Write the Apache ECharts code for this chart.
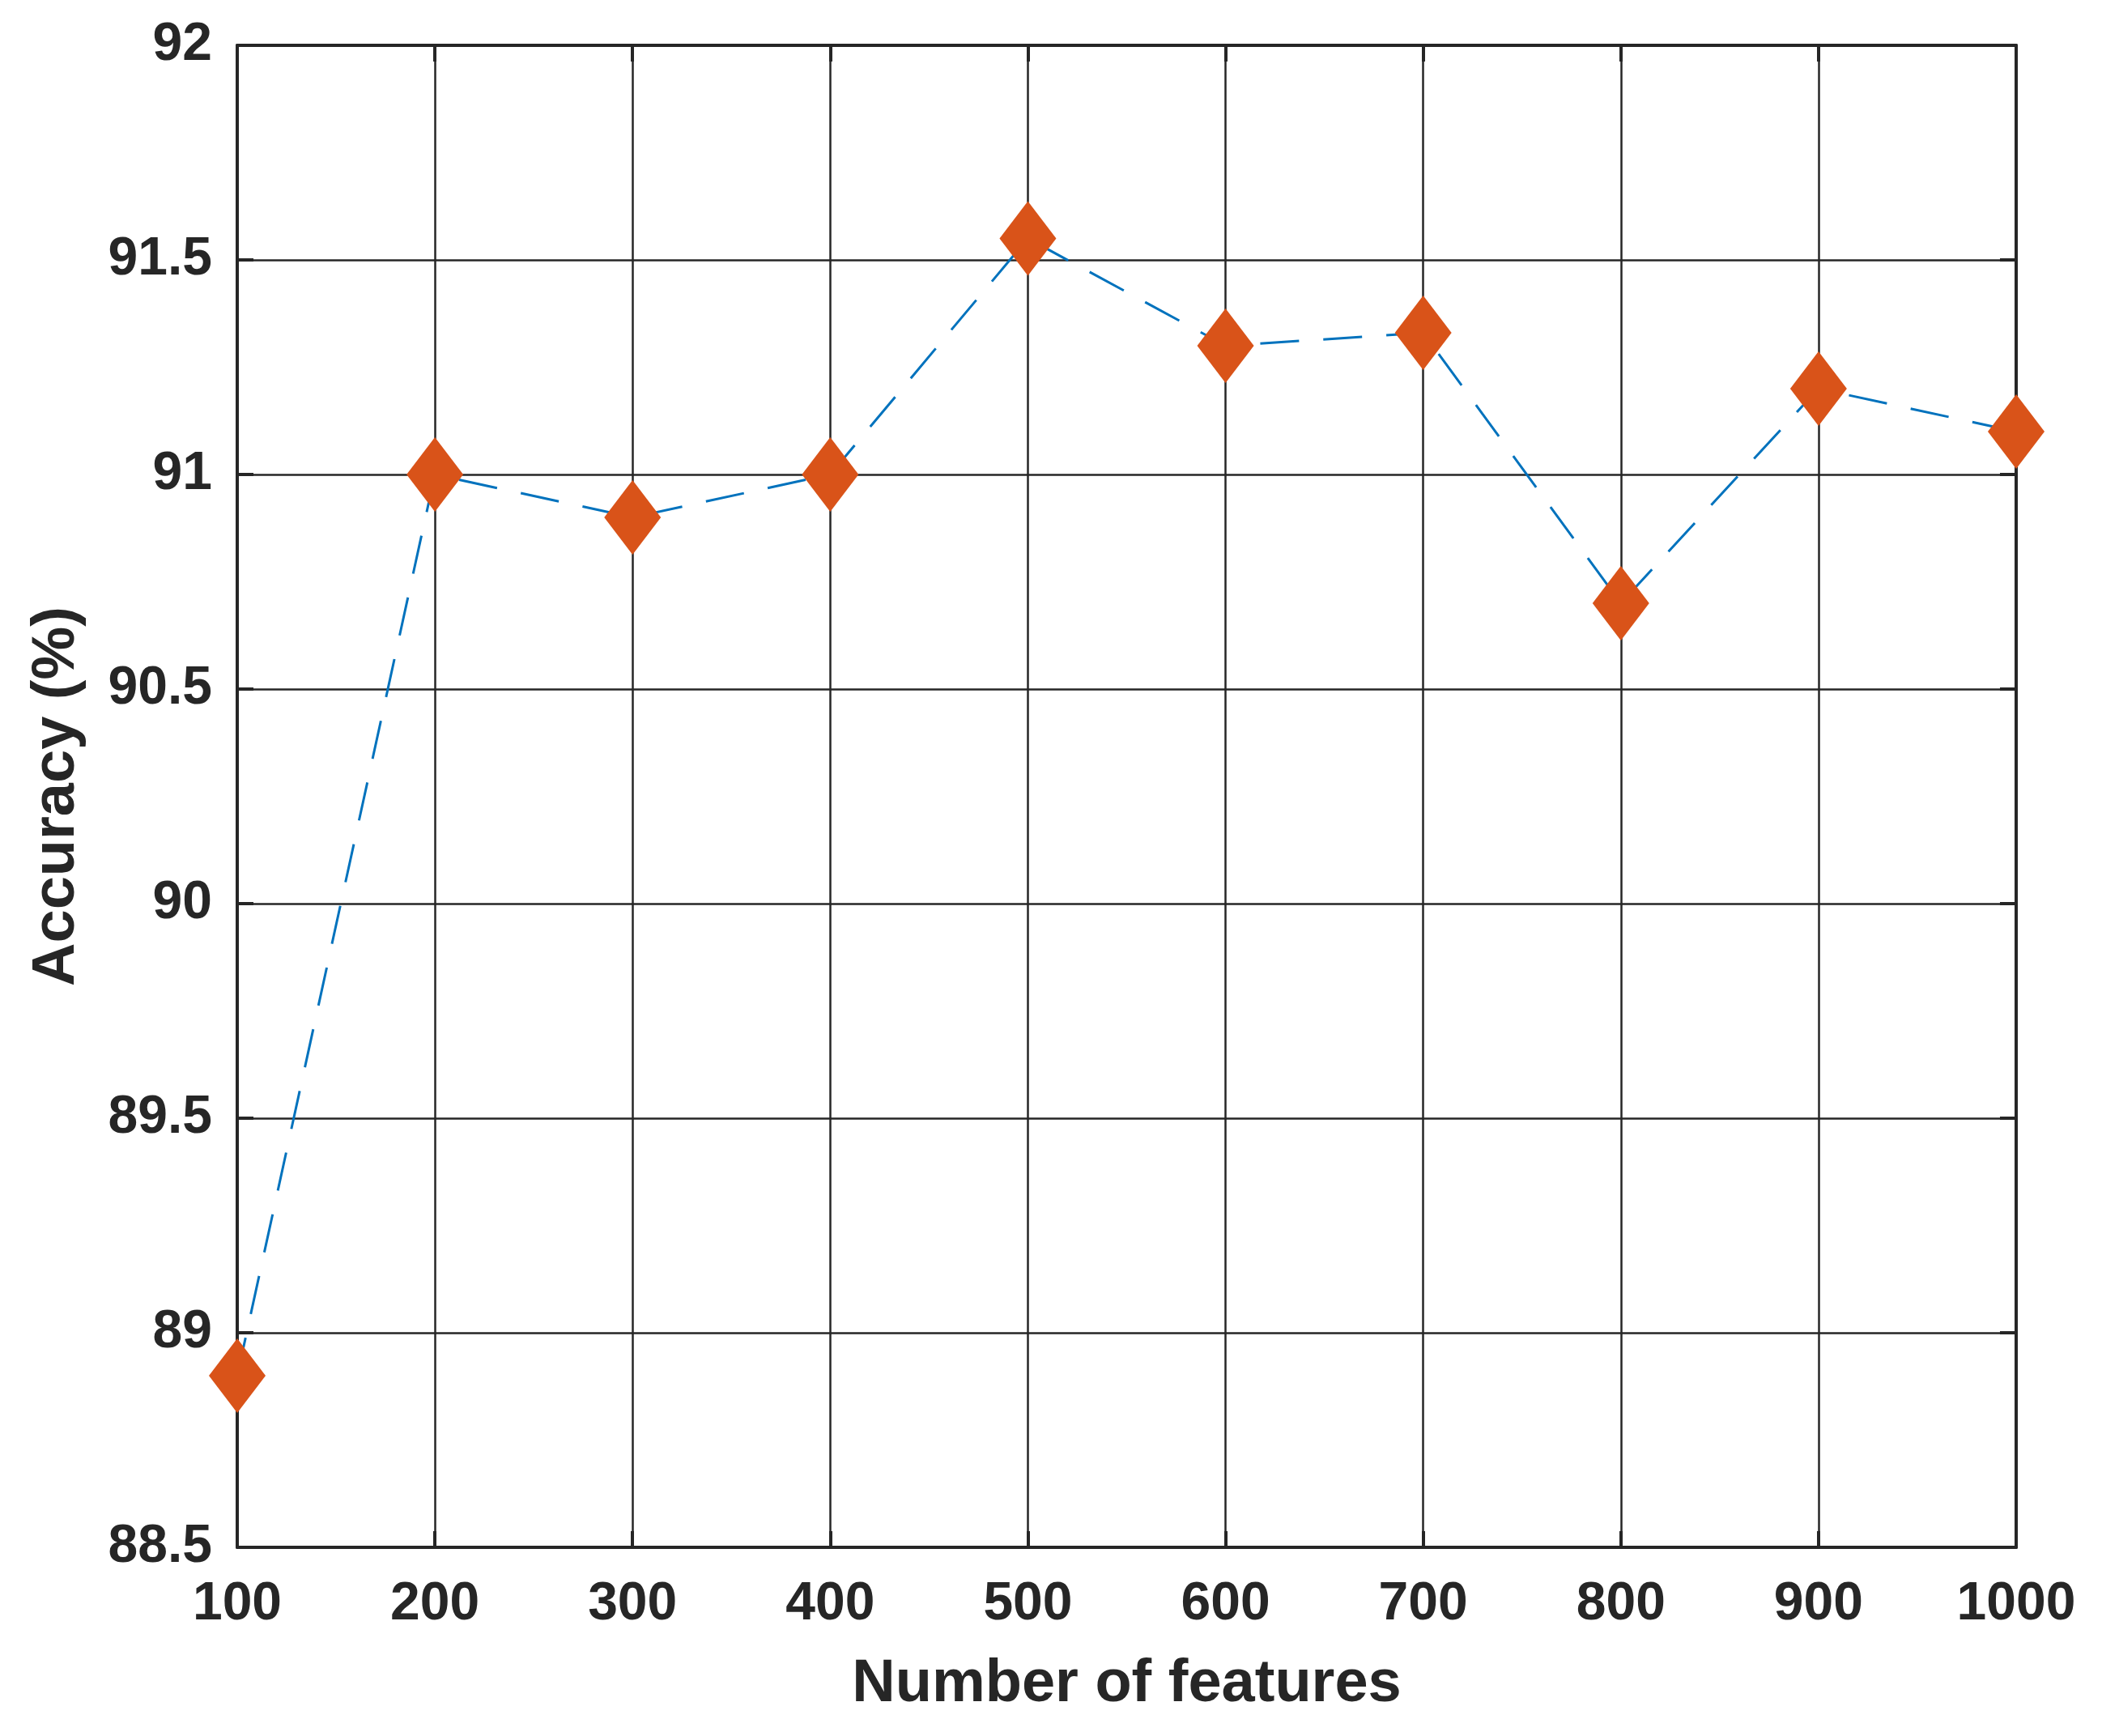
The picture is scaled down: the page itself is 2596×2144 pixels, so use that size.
<!DOCTYPE html>
<html>
<head>
<meta charset="utf-8">
<script src="https://cdn.jsdelivr.net/npm/echarts@6/dist/echarts.min.js"></script>
<style>
html,body{margin:0;padding:0;background:#fff;}
#chart{width:2596px;height:2144px;}
</style>
</head>
<body>
<div id="chart"></div>
<script>
const features = [100, 200, 300, 400, 500, 600, 700, 800, 900, 1000];
const accuracy = [88.9, 91.0, 90.9, 91.0, 91.55, 91.3, 91.33, 90.7, 91.2, 91.1];
const xTitle = 'Number of features';
const yTitle = 'Accuracy (%)';

const ink = '#262626';
const font = '"Liberation Sans", Arial, sans-serif';
const chart = echarts.init(document.getElementById('chart'), null, {renderer: 'canvas'});

const tickLabel = {color: ink, fontFamily: font, fontWeight: 'bold', fontSize: 66};
const axisCommon = {
  axisLine: {show: true, lineStyle: {color: ink, width: 4}},
  axisTick: {show: true, inside: true, length: 20, lineStyle: {color: ink, width: 4}}
};

chart.setOption({
  animation: false,
  backgroundColor: '#fff',
  grid: {left: 293, right: 2596 - 2490, top: 56, bottom: 2144 - 1911, show: false},
  xAxis: [
    Object.assign({
      type: 'value', min: 100, max: 1000, interval: 100, position: 'bottom',
      name: xTitle, nameLocation: 'middle', nameGap: 133,
      nameTextStyle: {color: ink, fontFamily: font, fontWeight: 'bold', fontSize: 74},
      axisLabel: Object.assign({margin: 38, formatter: v => String(v)}, tickLabel),
      splitLine: {show: true, lineStyle: {color: ink, width: 2.5}}
    }, axisCommon),
    Object.assign({
      type: 'value', min: 100, max: 1000, interval: 100, position: 'top',
      axisLabel: {show: false}, splitLine: {show: false}
    }, axisCommon)
  ],
  yAxis: [
    Object.assign({
      type: 'value', min: 88.5, max: 92, interval: 0.5, position: 'left',
      name: yTitle, nameLocation: 'middle', nameGap: 185,
      nameTextStyle: {color: ink, fontFamily: font, fontWeight: 'bold', fontSize: 74},
      axisLabel: Object.assign({margin: 31, padding: [10, 0, 0, 0], formatter: v => String(v)}, tickLabel),
      splitLine: {show: true, lineStyle: {color: ink, width: 2.5}}
    }, axisCommon),
    Object.assign({
      type: 'value', min: 88.5, max: 92, interval: 0.5, position: 'right',
      axisLabel: {show: false}, splitLine: {show: false}
    }, axisCommon)
  ],
  series: [{
    type: 'line',
    data: features.map((f, i) => [f, accuracy[i]]),
    clip: false,
    lineStyle: {color: '#0072BD', width: 3, type: [48, 30]},
    symbol: 'diamond',
    symbolSize: [70, 92],
    itemStyle: {color: '#D95319', borderWidth: 0},
    z: 5
  }]
});
</script>
</body>
</html>
